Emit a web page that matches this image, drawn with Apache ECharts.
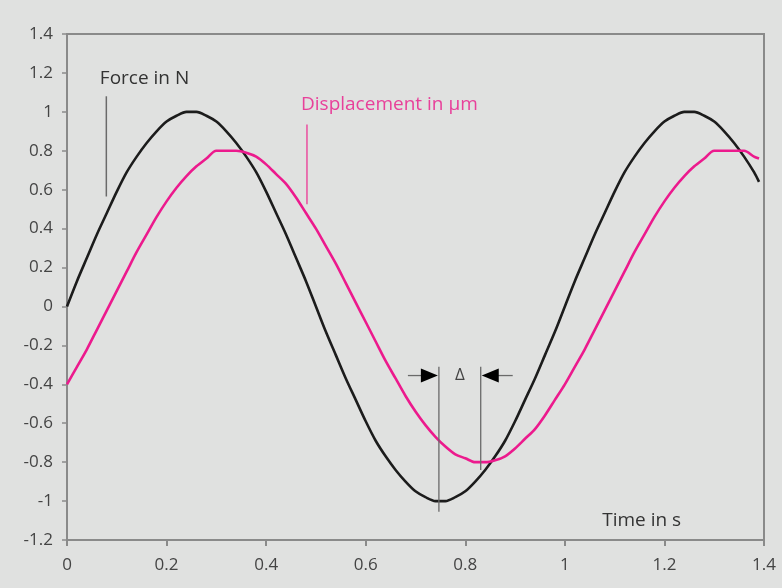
<!DOCTYPE html>
<html>
<head>
<meta charset="utf-8">
<script src="https://cdn.jsdelivr.net/npm/echarts@6/dist/echarts.min.js"></script>
<style>
html,body{margin:0;padding:0;background:#e0e1e0;}
#chart{width:782px;height:588px;}
</style>
</head>
<body>
<div id="chart"></div>
<script>
// Time samples (s)
var times = [0,0.02,0.04,0.06,0.08,0.10,0.12,0.14,0.16,0.18,0.20,0.22,0.24,0.26,0.28,0.30,0.32,0.34,0.36,0.38,
  0.40,0.42,0.44,0.46,0.48,0.50,0.52,0.54,0.56,0.58,0.60,0.62,0.64,0.66,0.68,0.70,0.72,0.74,0.76,0.78,
  0.80,0.82,0.84,0.86,0.88,0.90,0.92,0.94,0.96,0.98,1.00,1.02,1.04,1.06,1.08,1.10,1.12,1.14,1.16,1.18,
  1.20,1.22,1.24,1.26,1.28,1.30,1.32,1.34,1.36,1.38,1.39];
// Force in N (black)
var force = [0,0.13,0.25,0.37,0.48,0.59,0.69,0.77,0.84,0.9,0.95,0.98,1.0,1.0,0.98,0.95,0.9,0.84,0.77,0.69,
  0.59,0.48,0.37,0.25,0.13,0,-0.13,-0.25,-0.37,-0.48,-0.59,-0.69,-0.77,-0.84,-0.9,-0.95,-0.98,-1.0,-1.0,-0.98,
  -0.95,-0.9,-0.84,-0.77,-0.69,-0.59,-0.48,-0.37,-0.25,-0.13,0,0.13,0.25,0.37,0.48,0.59,0.69,0.77,0.84,0.9,
  0.95,0.98,1.0,1.0,0.98,0.95,0.9,0.84,0.77,0.69,0.64];
// Displacement in µm (pink)
var displacement = [-0.4,-0.31,-0.22,-0.12,-0.02,0.08,0.18,0.28,0.37,0.46,0.54,0.61,0.67,0.72,0.76,0.8,0.8,0.8,0.79,0.77,
  0.73,0.68,0.63,0.56,0.48,0.4,0.31,0.22,0.12,0.02,-0.08,-0.18,-0.28,-0.37,-0.46,-0.54,-0.61,-0.67,-0.72,-0.76,
  -0.78,-0.8,-0.8,-0.79,-0.77,-0.73,-0.68,-0.63,-0.56,-0.48,-0.4,-0.31,-0.22,-0.12,-0.02,0.08,0.18,0.28,0.37,0.46,
  0.54,0.61,0.67,0.72,0.76,0.8,0.8,0.8,0.8,0.77,0.76];
// Axis ticks
var xTicks = {min:0, max:1.4, interval:0.2};
var yTicks = {min:-1.2, max:1.4, interval:0.2};

var FONT = '"Open Sans", sans-serif';
var chart = echarts.init(document.getElementById('chart'));

function pairs(xs, ys){ return xs.map(function(x,i){ return [x, ys[i]]; }); }
function fmt(v){ return String(+v.toFixed(1)); }

chart.setOption({
  backgroundColor: '#e0e1e0',
  animation: false,
  grid: {left:67, right:18, top:34, bottom:48, show:true, borderColor:'#8a8a8a', borderWidth:2, backgroundColor:'transparent'},
  xAxis: {
    type:'value', min:xTicks.min, max:xTicks.max, interval:xTicks.interval,
    axisLine:{show:true, onZero:false, lineStyle:{color:'#8a8a8a', width:2}},
    axisTick:{show:true, length:6, lineStyle:{color:'#8a8a8a', width:2}},
    splitLine:{show:false},
    axisLabel:{margin:17, fontFamily:FONT, fontSize:17, color:'#444', formatter:fmt}
  },
  yAxis: {
    type:'value', min:yTicks.min, max:yTicks.max, interval:yTicks.interval,
    axisLine:{show:true, onZero:false, lineStyle:{color:'#8a8a8a', width:2}},
    axisTick:{show:true, length:5, lineStyle:{color:'#8a8a8a', width:1.5}},
    splitLine:{show:false},
    axisLabel:{margin:14, fontFamily:FONT, fontSize:17, color:'#444', formatter:fmt}
  },
  series: [
    {type:'line', name:'Force in N', data:pairs(times, force), showSymbol:false, smooth:0.3,
     lineStyle:{color:'#1c1c1c', width:2.6}, z:3},
    {type:'line', name:'Displacement in µm', data:pairs(times, displacement), showSymbol:false, smooth:0.3,
     lineStyle:{color:'#ec1a8d', width:2.6}, z:4}
  ]
});

function P(t, v){ return chart.convertToPixel({gridIndex:0}, [t, v]); }

var fl0 = P(0.079, 1.08), fl1 = P(0.079, 0.565);
var ft = P(0.066, 1.17);
var dl0 = P(0.482, 0.935), dl1 = P(0.482, 0.525);
var dt = P(0.47, 1.035);
var lA0 = P(0.747, -0.31), lA1 = P(0.747, -1.055);
var rA0 = P(0.831, -0.31), rA1 = P(0.831, -0.84);
var ay = P(0, -0.355)[1];
var lx = lA0[0], rx = rA0[0];
var deltaC = P(0.789, -0.355);

var lineGrey = '#6a6a6a';
chart.setOption({
  graphic: [
    {type:'line', shape:{x1:fl0[0], y1:fl0[1], x2:fl1[0], y2:fl1[1]}, style:{stroke:lineGrey, lineWidth:1.5}},
    {type:'text', x:ft[0], y:ft[1], style:{text:'Force in N', font:'19px '+FONT, fill:'#333', textVerticalAlign:'middle', textAlign:'left'}},
    {type:'line', shape:{x1:dl0[0], y1:dl0[1], x2:dl1[0], y2:dl1[1]}, style:{stroke:'#ea4d9f', lineWidth:1.5}},
    {type:'text', x:dt[0], y:dt[1], style:{text:'Displacement in µm', font:'19px '+FONT, fill:'#e8409a', textVerticalAlign:'middle', textAlign:'left'}},
    {type:'line', shape:{x1:lA0[0], y1:lA0[1], x2:lA1[0], y2:lA1[1]}, style:{stroke:lineGrey, lineWidth:1.3}, z:10},
    {type:'line', shape:{x1:rA0[0], y1:rA0[1], x2:rA1[0], y2:rA1[1]}, style:{stroke:lineGrey, lineWidth:1.3}, z:10},
    {type:'line', shape:{x1:lx-31, y1:ay, x2:lx-16, y2:ay}, style:{stroke:lineGrey, lineWidth:1.3}, z:10},
    {type:'polygon', shape:{points:[[lx-18, ay-7],[lx-1, ay],[lx-18, ay+7]]}, style:{fill:'#000'}, z:10},
    {type:'line', shape:{x1:rx+16, y1:ay, x2:rx+32, y2:ay}, style:{stroke:lineGrey, lineWidth:1.3}, z:10},
    {type:'polygon', shape:{points:[[rx+18, ay-7],[rx+1, ay],[rx+18, ay+7]]}, style:{fill:'#000'}, z:10},
    {type:'text', x:deltaC[0], y:deltaC[1], style:{text:'Δ', font:'17px '+FONT, fill:'#444', textVerticalAlign:'middle', textAlign:'center'}, z:10},
    {type:'text', x:P(1.075,0)[0], y:P(0,-1.1)[1], style:{text:'Time in s', font:'19px '+FONT, fill:'#333', textVerticalAlign:'middle', textAlign:'left'}}
  ]
});
</script>
</body>
</html>
